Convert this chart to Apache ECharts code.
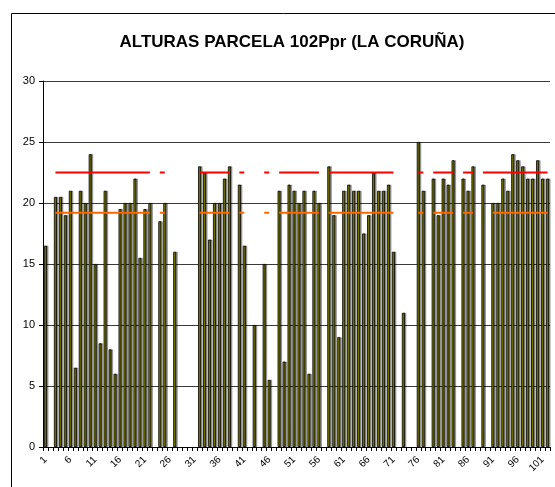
<!DOCTYPE html>
<html>
<head>
<meta charset="utf-8">
<script src="https://cdn.jsdelivr.net/npm/echarts@6/dist/echarts.min.js"></script>
<style>html,body{margin:0;padding:0;background:#fff}#c{width:555px;height:487px}</style>
</head>
<body>
<div id="c"></div>
<script>
const titleText = 'ALTURAS PARCELA 102Ppr (LA CORUÑA)';
const categories = [];
for (let i = 1; i <= 102; i++) categories.push(String(i));
const yTicks = [0, 5, 10, 15, 20, 25, 30];

const heights = [
  16.5, null, 20.5, 20.5, 19, 21, 6.5, 21, 20, 24,
  15, 8.5, 21, 8, 6, 19.5, 20, 20, 22, 15.5,
  19.5, 20, null, 18.5, 20, null, 16, null, null, null,
  null, 23, 22.5, 17, 20, 20, 22, 23, null, 21.5,
  16.5, null, 10, null, 15, 5.5, null, 21, 7, 21.5,
  21, 20, 21, 6, 21, 20, null, 23, 19, 9,
  21, 21.5, 21, 21, 17.5, 19, 22.5, 21, 21, 21.5,
  16, null, 11, null, null, 25, 21, null, 22, 19,
  22, 21.5, 23.5, null, 22, 21, 23, null, 21.5, null,
  20, 20, 22, 21, 24, 23.5, 23, 22, 22, 23.5,
  22, 22
];

const upperLine = [
  22.5, null, 22.5, 22.5, 22.5, 22.5, 22.5, 22.5, 22.5, 22.5,
  22.5, 22.5, 22.5, 22.5, 22.5, 22.5, 22.5, 22.5, 22.5, 22.5,
  22.5, 22.5, null, 22.5, 22.5, null, 22.5, null, null, null,
  null, 22.5, 22.5, 22.5, 22.5, 22.5, 22.5, 22.5, null, 22.5,
  22.5, null, 22.5, null, 22.5, 22.5, null, 22.5, 22.5, 22.5,
  22.5, 22.5, 22.5, 22.5, 22.5, 22.5, null, 22.5, 22.5, 22.5,
  22.5, 22.5, 22.5, 22.5, 22.5, 22.5, 22.5, 22.5, 22.5, 22.5,
  22.5, null, 22.5, null, null, 22.5, 22.5, null, 22.5, 22.5,
  22.5, 22.5, 22.5, null, 22.5, 22.5, 22.5, null, 22.5, 22.5,
  22.5, 22.5, 22.5, 22.5, 22.5, 22.5, 22.5, 22.5, 22.5, 22.5,
  22.5, 22.5
];

const lowerLine = [
  19.2, null, 19.2, 19.2, 19.2, 19.2, 19.2, 19.2, 19.2, 19.2,
  19.2, 19.2, 19.2, 19.2, 19.2, 19.2, 19.2, 19.2, 19.2, 19.2,
  19.2, 19.2, null, 19.2, 19.2, null, 19.2, null, null, null,
  null, 19.2, 19.2, 19.2, 19.2, 19.2, 19.2, 19.2, null, 19.2,
  19.2, null, 19.2, null, 19.2, 19.2, null, 19.2, 19.2, 19.2,
  19.2, 19.2, 19.2, 19.2, 19.2, 19.2, null, 19.2, 19.2, 19.2,
  19.2, 19.2, 19.2, 19.2, 19.2, 19.2, 19.2, 19.2, 19.2, 19.2,
  19.2, null, 19.2, null, null, 19.2, 19.2, null, 19.2, 19.2,
  19.2, 19.2, 19.2, null, 19.2, 19.2, 19.2, null, 19.2, null,
  19.2, 19.2, 19.2, 19.2, 19.2, 19.2, 19.2, 19.2, 19.2, 19.2,
  19.2, 19.2
];

const font = "'Liberation Sans', Arial, sans-serif";
const chart = echarts.init(document.getElementById('c'), null, {renderer: 'canvas'});
chart.setOption({
  backgroundColor: '#fff',
  animation: false,
  title: {
    text: titleText,
    left: 287, top: 29, textAlign: 'center',
    textStyle: {fontFamily: font, fontSize: 17, fontWeight: 'bold', color: '#000'}
  },
  graphic: [{
    type: 'rect', silent: true, z: -1,
    shape: {x: 11.5, y: 13.5, width: 700, height: 700},
    style: {fill: 'none', stroke: '#000', lineWidth: 1}
  }],
  grid: {left: 43, top: 81, right: 5, bottom: 40, show: false},
  xAxis: {
    type: 'category',
    data: categories,
    boundaryGap: true,
    axisLine: {lineStyle: {color: '#000', width: 1}},
    axisTick: {show: true, interval: 0, length: 4, lineStyle: {color: '#000'}},
    axisLabel: {
      interval: 4, rotate: 45, fontFamily: font, fontSize: 10, color: '#000', margin: 11
    },
    splitLine: {show: false}
  },
  yAxis: {
    type: 'value', min: yTicks[0], max: yTicks[yTicks.length - 1], interval: 5,
    axisLine: {show: true, lineStyle: {color: '#000', width: 1}},
    axisTick: {show: true, length: 4, lineStyle: {color: '#000'}},
    axisLabel: {fontFamily: font, fontSize: 11, color: '#000', margin: 8},
    splitLine: {show: true, lineStyle: {color: '#3a3a3a', width: 1}}
  },
  series: [
    {
      type: 'bar', data: heights, barWidth: 3,
      itemStyle: {color: '#808000', borderColor: '#000', borderWidth: 0.8,
        shadowColor: 'rgba(0,0,0,0.35)', shadowOffsetX: 1.5, shadowOffsetY: 0, shadowBlur: 0},
      z: 2
    },
    {
      type: 'line', data: upperLine, symbol: 'none', connectNulls: false,
      lineStyle: {color: '#FF0000', width: 2}, z: 3
    },
    {
      type: 'line', data: lowerLine, symbol: 'none', connectNulls: false,
      lineStyle: {color: '#FF6600', width: 2}, z: 3
    }
  ]
});
</script>
</body>
</html>
